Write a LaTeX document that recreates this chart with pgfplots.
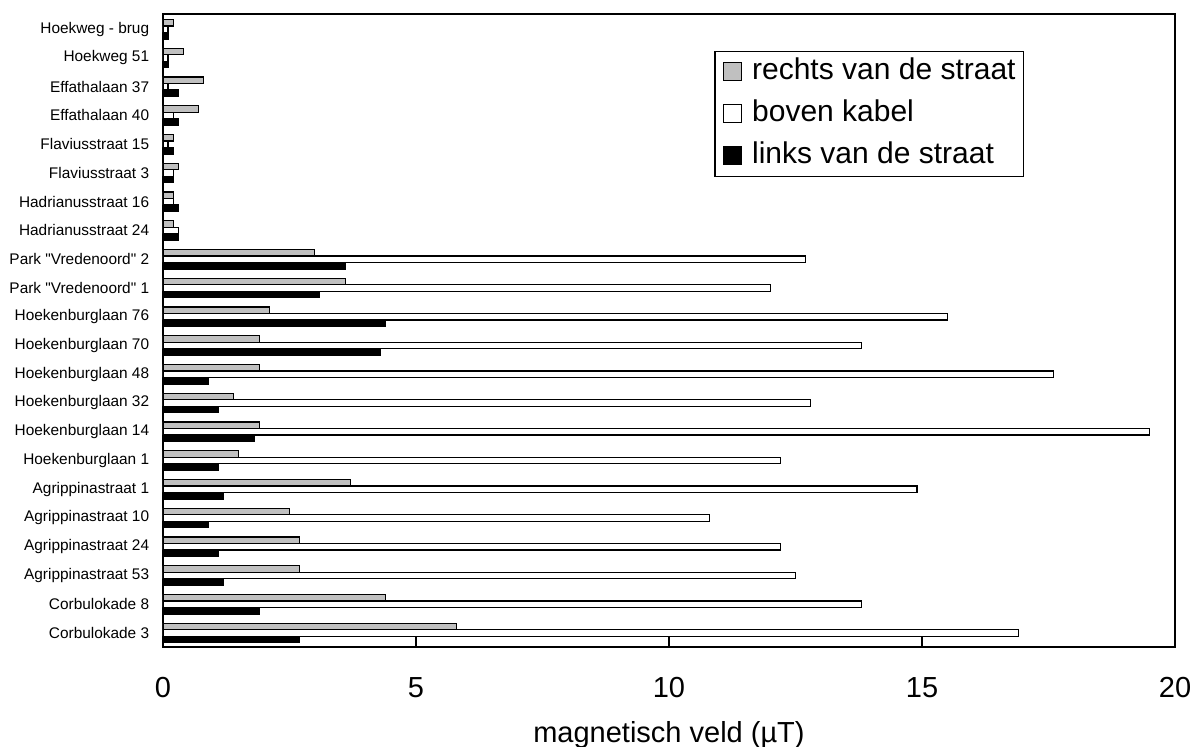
\documentclass[border=0pt]{standalone}
\usepackage{fontspec}
\setmainfont{Liberation Sans}
\newfontfamily\lsans{Liberation Sans}
\usepackage{pgfplots}
\pgfplotsset{compat=1.18}
\definecolor{bargray}{HTML}{C0C0C0}
\begin{document}
\begin{tikzpicture}
\useasboundingbox (-81.5pt,-50pt) rectangle (515.5pt,323.5pt);
\begin{axis}[
  at={(0,0)}, anchor=south west,
  scale only axis, width=506pt, height=316.5pt,
  xbar=0pt, bar width=3.25pt,
  xmin=0, xmax=20, ymin=-0.53, ymax=21.49, y dir=reverse,
  ytick={0,...,21},
  yticklabels={Hoekweg - brug, Hoekweg 51, Effathalaan 37, Effathalaan 40, Flaviusstraat 15, Flaviusstraat 3, Hadrianusstraat 16, Hadrianusstraat 24, Park "Vredenoord" 2, Park "Vredenoord" 1, Hoekenburglaan 76, Hoekenburglaan 70, Hoekenburglaan 48, Hoekenburglaan 32, Hoekenburglaan 14, Hoekenburglaan 1, Agrippinastraat 1, Agrippinastraat 10, Agrippinastraat 24, Agrippinastraat 53, Corbulokade 8, Corbulokade 3},
  xtick={0,5,10,15,20},
  tick align=inside, xtick pos=lower, ytick style={draw=none},
  major tick length=5pt,
  xtick style={line width=0.6pt, black},
  axis line style={line width=1pt},
  /pgf/number format/assume math mode=true,
  x tick label style={font=\lsans\fontsize{14.5}{16}\selectfont, yshift=-11.5pt},
  y tick label style={font=\lsans\fontsize{7.7}{9}\selectfont, xshift=-3.4pt},
  xlabel={magnetisch veld (µT)},
  xlabel style={font=\lsans\fontsize{14.5}{16}\selectfont, at={(axis description cs:0.5,0)}, anchor=center, yshift=-44pt},
  legend image code/.code={\draw[#1, line width=0.6pt] (0pt,-4.5pt) rectangle (9pt,4.5pt);},
  legend cell align=left,
  legend style={at={(0.851,0.942)}, anchor=north east, draw=black, line width=0.6pt,
    font=\lsans\fontsize{15}{18}\selectfont,
    inner xsep=4pt, inner ysep=3.25pt, row sep=7pt, column sep=0pt,
    nodes={inner sep=0pt, text height=10.8pt, text depth=3.2pt},
    /tikz/every odd column/.append style={column sep=5pt}},
]
\addplot[fill=bargray, draw=black, line width=0.6pt, bar shift=3.25pt] coordinates {
(0.2,0) (0.4,1) (0.8,2) (0.7,3) (0.2,4) (0.3,5) (0.2,6) (0.2,7)
(3.0,8) (3.6,9) (2.1,10) (1.9,11) (1.9,12) (1.4,13) (1.9,14) (1.5,15)
(3.7,16) (2.5,17) (2.7,18) (2.7,19) (4.4,20) (5.8,21)};
\addplot[fill=white, draw=black, line width=0.6pt, bar shift=0pt] coordinates {
(0.1,0) (0.1,1) (0.1,2) (0.2,3) (0.1,4) (0.2,5) (0.2,6) (0.3,7)
(12.7,8) (12.0,9) (15.5,10) (13.8,11) (17.6,12) (12.8,13) (19.5,14) (12.2,15)
(14.9,16) (10.8,17) (12.2,18) (12.5,19) (13.8,20) (16.9,21)};
\addplot[fill=black, draw=black, line width=0.6pt, bar shift=-3.25pt] coordinates {
(0.1,0) (0.1,1) (0.3,2) (0.3,3) (0.2,4) (0.2,5) (0.3,6) (0.3,7)
(3.6,8) (3.1,9) (4.4,10) (4.3,11) (0.9,12) (1.1,13) (1.8,14) (1.1,15)
(1.2,16) (0.9,17) (1.1,18) (1.2,19) (1.9,20) (2.7,21)};
\legend{rechts van de straat, boven kabel, links van de straat}
\end{axis}
\end{tikzpicture}
\end{document}
